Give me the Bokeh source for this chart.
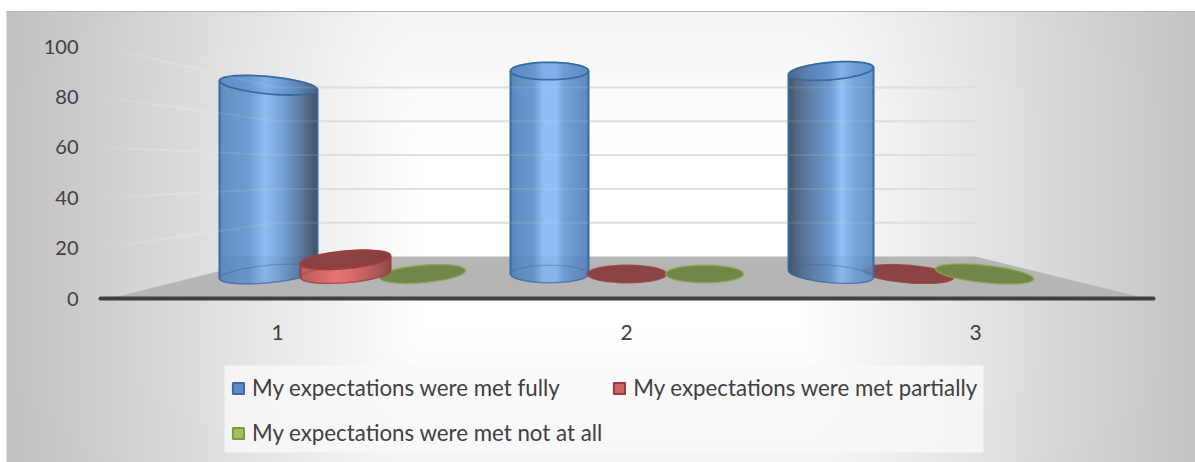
import numpy as np
from bokeh.embed import file_html
from bokeh.models import FixedTicker, Legend, LegendItem, LinearAxis, Range1d
from bokeh.plotting import figure
from bokeh.resources import INLINE

# ---------- data ----------
categories = ["1", "2", "3"]
fully = [93, 100, 100]
partially = [7, 0, 0]
not_at_all = [0, 0, 0]
y_ticks = [0, 20, 40, 60, 80, 100]
series_names = ["My expectations were met fully",
                "My expectations were met partially",
                "My expectations were met not at all"]

# ---------- page-pixel helpers ----------
W, H = 1195, 462
PAGE = 0
def X(px):
    return 1 + (np.asarray(px, dtype=float) - 277) / 349
def Y(py):
    return (298 - np.asarray(py, dtype=float)) / 2.52

FONT = "Lato"
TXT = "#404040"

p = figure(width=W, height=H, output_backend="svg", toolbar_location=None,
           x_range=Range1d(float(X(PAGE)), float(X(PAGE + W))),
           y_range=Range1d(float(Y(PAGE + H)), float(Y(PAGE))),
           x_axis_type=None, y_axis_type=None, min_border=0,
           min_border_left=0, min_border_right=0, min_border_top=0, min_border_bottom=0)
p.outline_line_color = None
p.grid.visible = False
p.background_fill_color = "white"
p.border_fill_color = "white"

# ---------- background ----------
TOP, LEFT = 11, 6
xx, yy = np.meshgrid(np.arange(LEFT, W) + .5, np.arange(H, TOP, -1) - .5)
dx = np.maximum(np.abs(xx - 610) - 190, 0) / 400
dy = np.maximum(np.abs(yy - 240) - 90, 0) / 800
lum = np.clip(255 - 60 * np.hypot(dx, dy), 190, 255).astype(np.uint32)
img = (255 << 24) | (lum << 16) | (lum << 8) | lum
p.image_rgba(image=[img.astype(np.uint32)], x=[float(X(LEFT))], y=[float(Y(H))],
             dw=[float(X(W) - X(LEFT))], dh=[float(Y(TOP) - Y(H))])
p.segment(x0=[float(X(LEFT))], x1=[float(X(W))], y0=[float(Y(TOP))], y1=[float(Y(TOP))],
          line_color="#b4b4b4", line_width=1)

# ---------- walls and floor ----------
BACK_Y, BACK_S = 256, 1.69

def draw_grid(alpha):
    for v in y_ticks[1:]:
        yb = BACK_Y - v * BACK_S
        p.line(X([277, 975]), Y([yb, yb]), line_color="#dfdfdf", line_width=2, line_alpha=alpha)
        yf = 298 - v * 2.52
        n = 14
        for i in range(n):
            a, b = i / n, (i + 1) / n
            p.line(X([100 + a * 177, 100 + b * 177]), Y([yf + a * (yb - yf), yf + b * (yb - yf)]),
                   line_color="#e2e2e2", line_width=2, line_alpha=alpha * min(1, (a + .1) * 1.5))

draw_grid(1)
p.patch(X([109, 1146, 975, 277]), Y([298, 298, 256, 256]), fill_color="#b5b5b5", line_color=None)

# ---------- cylinders ----------
BASE_Y, DEPTH_S = 273.5, 2.03
BLUE_OUT, RED_OUT, GREEN_OUT = "#376a9f", "#a03c3c", "#8aa84e"

def lerp_color(stops, f):
    fs = [s[0] for s in stops]
    return tuple(np.interp(f, fs, [int(s[1][k:k + 2], 16) for s in stops]) for k in (1, 3, 5))

def hexc(c, lighten=0.0):
    return "#%02x%02x%02x" % tuple(int(round(v + (255 - v) * lighten)) for v in c)

def ellipse_pts(cx, cy, a, b, t, n=72):
    th = np.linspace(0, 2 * np.pi, n)
    return cx + a * np.cos(th), cy + b * np.sin(th) + t * np.cos(th)

def cylinder(cx, a, value, stops, tt, tb, out, top_fill, top_alpha, flat_fill):
    b = 8.7
    cy_b = BASE_Y
    cy_t = BASE_Y - value * DEPTH_S
    if value <= 0:
        xs, ys = ellipse_pts(cx, cy_b, a, b, tb)
        p.patch(X(xs), Y(ys), fill_color=flat_fill, line_color=out, line_width=1.5, line_alpha=.8)
        return
    x0, x1 = int(round(cx - a)), int(round(cx + a))
    edges = np.arange(x0, x1 + 1)
    left, right = edges[:-1], edges[1:]
    mid = (left + right) / 2
    u = np.clip((mid - cx) / a, -1, 1)
    y_bot = cy_b + b * np.sqrt(1 - u ** 2) + tb * u
    y_top = cy_t - b * np.sqrt(1 - u ** 2) + tt * u
    f = (mid - x0) / (x1 - x0)
    cols = [hexc(lerp_color(stops, g), .1) for g in f]
    p.quad(left=X(left), right=X(right), top=Y(y_top), bottom=Y(y_bot),
           fill_color=cols, line_color=cols, line_width=1)
    # floor seen through the glass
    if value > 20:
        p.patch(X(np.r_[mid[0], mid, mid[-1]]), Y(np.r_[BACK_Y, y_bot, BACK_Y]),
                fill_color="#203040", fill_alpha=.06, line_color=None)
    xs, ys = ellipse_pts(cx, cy_b, a, b, tb)
    p.line(X(xs), Y(ys), line_color=out, line_width=1.3, line_alpha=.4)
    lower = np.linspace(0, np.pi, 36)
    p.line(X(cx + a * np.cos(lower)), Y(cy_b + b * np.sin(lower) + tb * np.cos(lower)),
           line_color=out, line_width=1.5, line_alpha=.5)
    xs, ys = ellipse_pts(cx, cy_t, a, b, tt)
    p.patch(X(xs), Y(ys), fill_color=top_fill, fill_alpha=top_alpha, line_color=out, line_width=1.8)
    for s in (-1, 1):
        xe = cx + s * a
        p.line(X([xe, xe]), Y([cy_t + s * tt, cy_b + s * tb]), line_color=out, line_width=2)

BL = [(0, "#4f7fba"), (.08, "#5586c1"), (.3, "#5f90cd"), (.47, "#84b5f3"), (.6, "#6f9fda"),
      (.78, "#5078aa"), (.92, "#3b5673"), (1, "#2c3e54")]
BM = [(0, "#4776b0"), (.1, "#5283c0"), (.3, "#5b8eca"), (.43, "#85b7f5"), (.6, "#85b7f5"),
      (.68, "#6898d4"), (1, "#4d7db8")]
BR = [(0, "#2c3e54"), (.08, "#3b5673"), (.3, "#4f76a6"), (.5, "#6090cd"), (.63, "#88baf7"),
      (.78, "#6b9bd6"), (1, "#5788c4")]
RD = [(0, "#b04c4c"), (.15, "#c05252"), (.4, "#e46666"), (.6, "#d05a5a"), (.85, "#a04545"), (1, "#853737")]

blue_kw = dict(out=BLUE_OUT, top_fill="#5b8fce", top_alpha=.3, flat_fill="#5d8ecb")
red_kw = dict(out=RED_OUT, top_fill="#803c3c", top_alpha=.85, flat_fill="#8a4444")
green_kw = dict(out=GREEN_OUT, top_fill="#718648", top_alpha=1, flat_fill="#718648")

cylinder(268, 49, fully[0], BL, 4.5, -4.5, **blue_kw)
cylinder(422, 43, not_at_all[0], None, 0, -3.5, **green_kw)
cylinder(345, 45, partially[0], RD, -4, -3.5, **red_kw)
cylinder(549, 39, fully[1], BM, 0, 0, **blue_kw)
cylinder(626.5, 39.5, partially[1], None, 0, 0, **red_kw)
cylinder(704, 39, not_at_all[1], None, 0, 0, **green_kw)
cylinder(907.5, 45.5, partially[2], None, 0, 3.5, **red_kw)
cylinder(984, 49, not_at_all[2], None, 0, 5, **green_kw)
cylinder(830.5, 42.5, fully[2], BR, -3.5, 3.5, **blue_kw)
# the red disc shows faintly through the third blue cylinder
xs3, ys3 = ellipse_pts(907.5, BASE_Y, 45.5, 8.7, 3.5)
keep = xs3 < 873
p.patch(X(np.r_[xs3[keep]]), Y(np.r_[ys3[keep]]), fill_color="#8a4444", fill_alpha=.22, line_color=None)
draw_grid(.12)

# ---------- axes ----------
xaxis = LinearAxis(ticker=FixedTicker(ticks=[1, 2, 3]),
                   major_label_overrides={i + 1: c for i, c in enumerate(categories)},
                   fixed_location=0, bounds=(float(X(100)), float(X(1153))),
                   axis_line_color="#404040", axis_line_width=4, axis_line_cap="round",
                   major_tick_line_color=None, minor_tick_line_color=None,
                   major_label_standoff=20, major_label_text_font=FONT,
                   major_label_text_font_size="21px", major_label_text_color=TXT)
p.add_layout(xaxis, "below")
yaxis = LinearAxis(ticker=FixedTicker(ticks=y_ticks), fixed_location=float(X(85)),
                   axis_line_color=None, major_tick_line_color=None, minor_tick_line_color=None,
                   major_label_standoff=1, major_label_text_font=FONT,
                   major_label_text_font_size="20px", major_label_text_color=TXT)
p.add_layout(yaxis, "left")

# ---------- legend ----------
p.quad(left=[float(X(224))], right=[float(X(983))], top=[float(Y(365))], bottom=[float(Y(452))],
       fill_color="#f9f9f9", fill_alpha=.8, line_color=None)
lg = [("#5b8ec8", "#3a6aa4"), ("#c96666", "#973a3a"), ("#a5c063", "#7a9a40")]
items = []
for name, (fc, lc) in zip(series_names, lg):
    r = p.quad(left=[float("nan")], right=[float("nan")], top=[float("nan")], bottom=[float("nan")],
               fill_color=fc, line_color=lc, line_width=2)
    items.append(LegendItem(label=name, renderers=[r]))
legend = Legend(items=items, ncols=2, orientation="horizontal", location=(224 + 7, 12), margin=0, padding=8,
                spacing=10, label_standoff=7, glyph_width=14, glyph_height=14, label_height=35,
                background_fill_alpha=0, border_line_color=None,
                label_text_font=FONT, label_text_font_size="22.3px", label_text_color=TXT)
p.add_layout(legend, "center")

open("out.html", "w").write(file_html(p, INLINE))
